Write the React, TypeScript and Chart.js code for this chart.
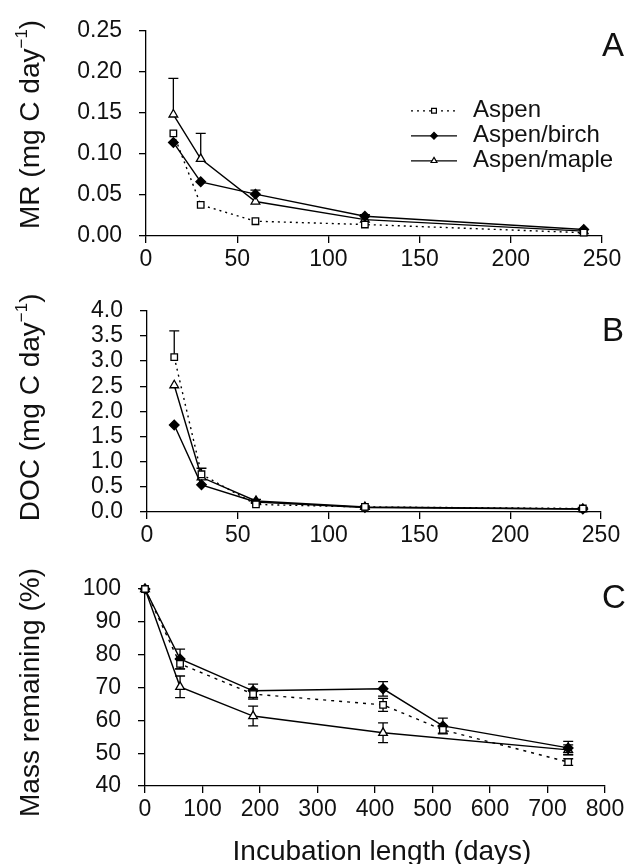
import React, { useEffect, useRef } from "react";
import { Chart, registerables } from "chart.js";

Chart.register(...registerables);

const FONT = '"Liberation Sans", Arial, Helvetica, sans-serif';
const INK = "#111";

const seriesLabels = ["Aspen", "Aspen/birch", "Aspen/maple"];

// ---- Panel A: MR ----
const mrDays = [15, 30, 60, 120, 240];
const mrAspen = [0.125, 0.038, 0.018, 0.014, 0.004];
const mrBirch = [0.114, 0.066, 0.051, 0.024, 0.008];
const mrMaple = [0.148, 0.094, 0.042, 0.02, 0.006];
const mrAspenErr = [0, 0, 0, 0, 0];
const mrBirchErr = [0, 0, 0.005, 0.002, 0];
const mrMapleErr = [0.044, 0.031, 0, 0, 0];
const mrXTicks = [0, 50, 100, 150, 200, 250];
const mrXLabels = ["0", "50", "100", "150", "200", "250"];
const mrYTicks = [0, 0.05, 0.1, 0.15, 0.2, 0.25];
const mrYLabels = ["0.00", "0.05", "0.10", "0.15", "0.20", "0.25"];

// ---- Panel B: DOC ----
const docDays = [15, 30, 60, 120, 240];
const docAspen = [3.08, 0.75, 0.15, 0.1, 0.07];
const docBirch = [1.73, 0.54, 0.2, 0.09, 0.06];
const docMaple = [2.52, 0.69, 0.22, 0.1, 0.06];
const docAspenErr = [0.52, 0.12, 0, 0.02, 0.02];
const docBirchErr = [0, 0, 0, 0, 0];
const docMapleErr = [0, 0, 0.03, 0, 0];
const docXTicks = [0, 50, 100, 150, 200, 250];
const docXLabels = ["0", "50", "100", "150", "200", "250"];
const docYTicks = [0, 0.5, 1, 1.5, 2, 2.5, 3, 3.5, 4];
const docYLabels = ["0.0", "0.5", "1.0", "1.5", "2.0", "2.5", "3.0", "3.5", "4.0"];

// ---- Panel C: Mass remaining ----
const massDaysAspen = [0, 61, 188, 414, 518, 736];
const massAspen = [100, 77.2, 68, 64.7, 57.1, 47.3];
const massAspenErr = [0, 1.5, 1.5, 2, 1, 1];
const massDaysBirch = [0, 61, 188, 414, 518, 736];
const massBirch = [100, 78.7, 69, 69.6, 58.3, 51.6];
const massBirchErr = [0, 3, 2, 2.2, 2.4, 2];
const massDaysMaple = [0, 61, 188, 414, 736];
const massMaple = [100, 70.2, 61.3, 56.2, 51];
const massMapleErr = [0, 3.3, 3, 3, 1.5];
const massXTicks = [0, 100, 200, 300, 400, 500, 600, 700, 800];
const massXLabels = ["0", "100", "200", "300", "400", "500", "600", "700", "800"];
const massYTicks = [40, 50, 60, 70, 80, 90, 100];
const massYLabels = ["40", "50", "60", "70", "80", "90", "100"];

type Marker = "rect" | "rectRot" | "triangle";
const seriesStyles: { marker: Marker; fill: string; dash: number[]; radius: number }[] = [
  { marker: "rect", fill: "#fff", dash: [2, 4], radius: 4.6 },
  { marker: "rectRot", fill: "#000", dash: [], radius: 4.8 },
  { marker: "triangle", fill: "#fff", dash: [], radius: 5 },
];

function makeDatasets(xsList: number[][], ysList: number[][], errList: number[][], dash?: number[]) {
  return ysList.map((ys, k) => ({
    label: seriesLabels[k],
    data: xsList[k].map((x, i) => ({ x, y: ys[i] })),
    errors: errList[k],
    borderColor: "#000",
    borderWidth: 1.4,
    borderDash: k === 0 && dash ? dash : seriesStyles[k].dash,
    pointStyle: seriesStyles[k].marker,
    pointRadius: seriesStyles[k].radius,
    pointHoverRadius: seriesStyles[k].radius,
    pointBackgroundColor: seriesStyles[k].fill,
    pointBorderColor: "#000",
    pointBorderWidth: 1.3,
    fill: false,
    tension: 0,
    clip: false,
  }));
}

function drawMarker(ctx: CanvasRenderingContext2D, m: Marker, x: number, y: number, r: number, fill: string) {
  ctx.beginPath();
  if (m === "rect") {
    const s = r * Math.SQRT1_2;
    ctx.rect(x - s, y - s, 2 * s, 2 * s);
  } else if (m === "rectRot") {
    ctx.moveTo(x - r, y);
    ctx.lineTo(x, y - r);
    ctx.lineTo(x + r, y);
    ctx.lineTo(x, y + r);
    ctx.closePath();
  } else {
    let a = 0;
    ctx.moveTo(x + Math.sin(a) * r, y - Math.cos(a) * r);
    a += (2 * Math.PI) / 3;
    ctx.lineTo(x + Math.sin(a) * r, y - Math.cos(a) * r);
    a += (2 * Math.PI) / 3;
    ctx.lineTo(x + Math.sin(a) * r, y - Math.cos(a) * r);
    ctx.closePath();
  }
  ctx.fillStyle = fill;
  ctx.fill();
  ctx.strokeStyle = "#000";
  ctx.lineWidth = 1.2;
  ctx.setLineDash([]);
  ctx.stroke();
}

const errorBarPlugin = {
  id: "errorBars",
  beforeDatasetsDraw(chart: any, _a: any, opts: any) {
    const ctx = chart.ctx as CanvasRenderingContext2D;
    const xs = chart.scales.x;
    const ys = chart.scales.y;
    const cap = 5;
    ctx.save();
    ctx.strokeStyle = "#000";
    ctx.lineWidth = 1.3;
    ctx.setLineDash([]);
    chart.data.datasets.forEach((ds: any) => {
      const errs: number[] = ds.errors || [];
      ds.data.forEach((p: any, i: number) => {
        const e = errs[i];
        if (!e) return;
        const px = xs.getPixelForValue(p.x);
        const top = ys.getPixelForValue(p.y + e);
        const bot = opts.mode === "both" ? ys.getPixelForValue(p.y - e) : ys.getPixelForValue(p.y);
        ctx.beginPath();
        ctx.moveTo(px, top);
        ctx.lineTo(px, bot);
        ctx.moveTo(px - cap, top);
        ctx.lineTo(px + cap, top);
        if (opts.mode === "both") {
          ctx.moveTo(px - cap, bot);
          ctx.lineTo(px + cap, bot);
        }
        ctx.stroke();
      });
    });
    ctx.restore();
  },
};

const decoPlugin = {
  id: "deco",
  afterDraw(chart: any, _a: any, o: any) {
    const ctx = chart.ctx as CanvasRenderingContext2D;
    const ca = chart.chartArea;
    ctx.save();
    ctx.fillStyle = INK;
    // y title with optional superscript
    const parts: { text: string; sup?: boolean }[] = o.yTitle || [];
    const mainFont = `28px ${FONT}`;
    const supFont = `17px ${FONT}`;
    let total = 0;
    const widths = parts.map((p) => {
      ctx.font = p.sup ? supFont : mainFont;
      const w = ctx.measureText(p.text).width;
      total += w;
      return w;
    });
    ctx.translate(o.yTitleX, (ca.top + ca.bottom) / 2 + o.yTitleDy);
    ctx.rotate(-Math.PI / 2);
    ctx.textBaseline = "middle";
    ctx.textAlign = "left";
    let cur = -total / 2;
    parts.forEach((p, i) => {
      ctx.font = p.sup ? supFont : mainFont;
      ctx.fillText(p.text, cur, p.sup ? -9 : 0);
      cur += widths[i];
    });
    ctx.setTransform(1, 0, 0, 1, 0, 0);
    // x title
    if (o.xTitle) {
      ctx.font = `28px ${FONT}`;
      ctx.textAlign = "center";
      ctx.textBaseline = "alphabetic";
      ctx.fillText(o.xTitle, o.xTitleX, o.xTitleY);
    }
    // panel letter
    ctx.font = `33px ${FONT}`;
    ctx.textAlign = "center";
    ctx.textBaseline = "alphabetic";
    ctx.fillText(o.letter, o.letterX, o.letterY);
    // legend
    if (o.legend) {
      const L = o.legend;
      chart.data.datasets.forEach((ds: any, k: number) => {
        const y = ca.top + L.dy + k * L.gap;
        const x0 = ca.left + L.dx;
        ctx.beginPath();
        ctx.strokeStyle = "#000";
        ctx.lineWidth = 1.3;
        ctx.setLineDash(ds.borderDash || []);
        ctx.moveTo(x0, y);
        ctx.lineTo(x0 + L.len, y);
        ctx.stroke();
        ctx.setLineDash([]);
        drawMarker(ctx, ds.pointStyle, x0 + L.len / 2, y, 3.4, ds.pointBackgroundColor);
        ctx.fillStyle = INK;
        ctx.font = `24px ${FONT}`;
        ctx.textAlign = "left";
        ctx.textBaseline = "middle";
        ctx.fillText(ds.label, x0 + L.textDx, y);
      });
    }
    ctx.restore();
  },
};

interface PanelSpec {
  height: number;
  padTop: number;
  padRight: number;
  yWidth: number;
  xHeight: number;
  xMin: number;
  xMax: number;
  xTicks: number[];
  xLabels: string[];
  yMin: number;
  yMax: number;
  yTicks: number[];
  yLabels: string[];
  datasets: any[];
  errMode: "up" | "both";
  deco: any;
}

function buildConfig(p: PanelSpec): any {
  const tickFont = { family: FONT, size: 23 };
  return {
    type: "line",
    data: { datasets: p.datasets },
    plugins: [errorBarPlugin, decoPlugin],
    options: {
      responsive: false,
      animation: false,
      events: [],
      layout: { padding: { top: p.padTop, right: p.padRight, left: 0, bottom: 0 } },
      plugins: {
        legend: { display: false },
        tooltip: { enabled: false },
        errorBars: { mode: p.errMode },
        deco: p.deco,
      },
      scales: {
        x: {
          type: "linear",
          min: p.xMin,
          max: p.xMax,
          afterBuildTicks: (s: any) => {
            s.ticks = p.xTicks.map((v) => ({ value: v }));
          },
          afterFit: (s: any) => {
            s.height = p.xHeight;
          },
          ticks: {
            autoSkip: false,
            maxRotation: 0,
            minRotation: 0,
            padding: 3,
            color: INK,
            font: tickFont,
            callback: (_v: any, i: number) => p.xLabels[i],
          },
          grid: { drawOnChartArea: false, drawTicks: true, tickLength: 7, color: "#000", lineWidth: 1.3 },
          border: { display: true, color: "#000", width: 1.3 },
        },
        y: {
          type: "linear",
          min: p.yMin,
          max: p.yMax,
          afterBuildTicks: (s: any) => {
            s.ticks = p.yTicks.map((v) => ({ value: v }));
          },
          afterFit: (s: any) => {
            s.width = p.yWidth;
          },
          ticks: {
            autoSkip: false,
            padding: 17,
            color: INK,
            font: tickFont,
            callback: (_v: any, i: number) => p.yLabels[i],
          },
          grid: { drawOnChartArea: false, drawTicks: true, tickLength: 7, color: "#000", lineWidth: 1.3 },
          border: { display: true, color: "#000", width: 1.3 },
        },
      },
    },
  };
}

function Panel({ top, spec }: { top: number; spec: PanelSpec }) {
  const ref = useRef<HTMLCanvasElement>(null);
  useEffect(() => {
    const chart = new Chart(ref.current as HTMLCanvasElement, buildConfig(spec));
    return () => chart.destroy();
  }, []);
  return (
    <canvas
      ref={ref}
      width={628}
      height={spec.height}
      style={{ position: "absolute", left: 0, top, width: 628, height: spec.height, display: "block" }}
    />
  );
}

const panelA: PanelSpec = {
  height: 280,
  padTop: 27,
  padRight: 26,
  yWidth: 146,
  xHeight: 44,
  xMin: 0,
  xMax: 250,
  xTicks: mrXTicks,
  xLabels: mrXLabels,
  yMin: 0,
  yMax: 0.25,
  yTicks: mrYTicks,
  yLabels: mrYLabels,
  datasets: makeDatasets([mrDays, mrDays, mrDays], [mrAspen, mrBirch, mrMaple], [mrAspenErr, mrBirchErr, mrMapleErr]),
  errMode: "up",
  deco: {
    yTitle: [{ text: "MR (mg C day" }, { text: "\u22121", sup: true }, { text: ")" }],
    yTitleX: 31,
    yTitleDy: -9,
    letter: "A",
    letterX: 613,
    letterY: 56,
    legend: { dx: 265, dy: 80, gap: 25, len: 46, textDx: 62 },
  },
};

const panelB: PanelSpec = {
  height: 270,
  padTop: 24,
  padRight: 27,
  yWidth: 147,
  xHeight: 38,
  xMin: 0,
  xMax: 250,
  xTicks: docXTicks,
  xLabels: docXLabels,
  yMin: 0,
  yMax: 4,
  yTicks: docYTicks,
  yLabels: docYLabels,
  datasets: makeDatasets([docDays, docDays, docDays], [docAspen, docBirch, docMaple], [docAspenErr, docBirchErr, docMapleErr]),
  errMode: "up",
  deco: {
    yTitle: [{ text: "DOC (mg C day" }, { text: "\u22121", sup: true }, { text: ")" }],
    yTitleX: 31,
    yTitleDy: -4,
    letter: "B",
    letterX: 613,
    letterY: 61,
  },
};

const panelC: PanelSpec = {
  height: 314,
  padTop: 39,
  padRight: 23,
  yWidth: 145,
  xHeight: 78,
  xMin: 0,
  xMax: 800,
  xTicks: massXTicks,
  xLabels: massXLabels,
  yMin: 40,
  yMax: 100,
  yTicks: massYTicks,
  yLabels: massYLabels,
  datasets: makeDatasets(
    [massDaysAspen, massDaysBirch, massDaysMaple],
    [massAspen, massBirch, massMaple],
    [massAspenErr, massBirchErr, massMapleErr],
    [3, 5]
  ),
  errMode: "both",
  deco: {
    yTitle: [{ text: "Mass remaining (%)" }],
    yTitleX: 31,
    yTitleDy: 5,
    xTitle: "Incubation length (days)",
    xTitleX: 382,
    xTitleY: 310,
    letter: "C",
    letterX: 614,
    letterY: 58,
  },
};

export default function App() {
  return (
    <div style={{ position: "absolute", left: 0, top: 0, width: 628, height: 864, background: "#fff", overflow: "hidden" }}>
      <Panel top={0} spec={panelA} />
      <Panel top={280} spec={panelB} />
      <Panel top={550} spec={panelC} />
    </div>
  );
}
